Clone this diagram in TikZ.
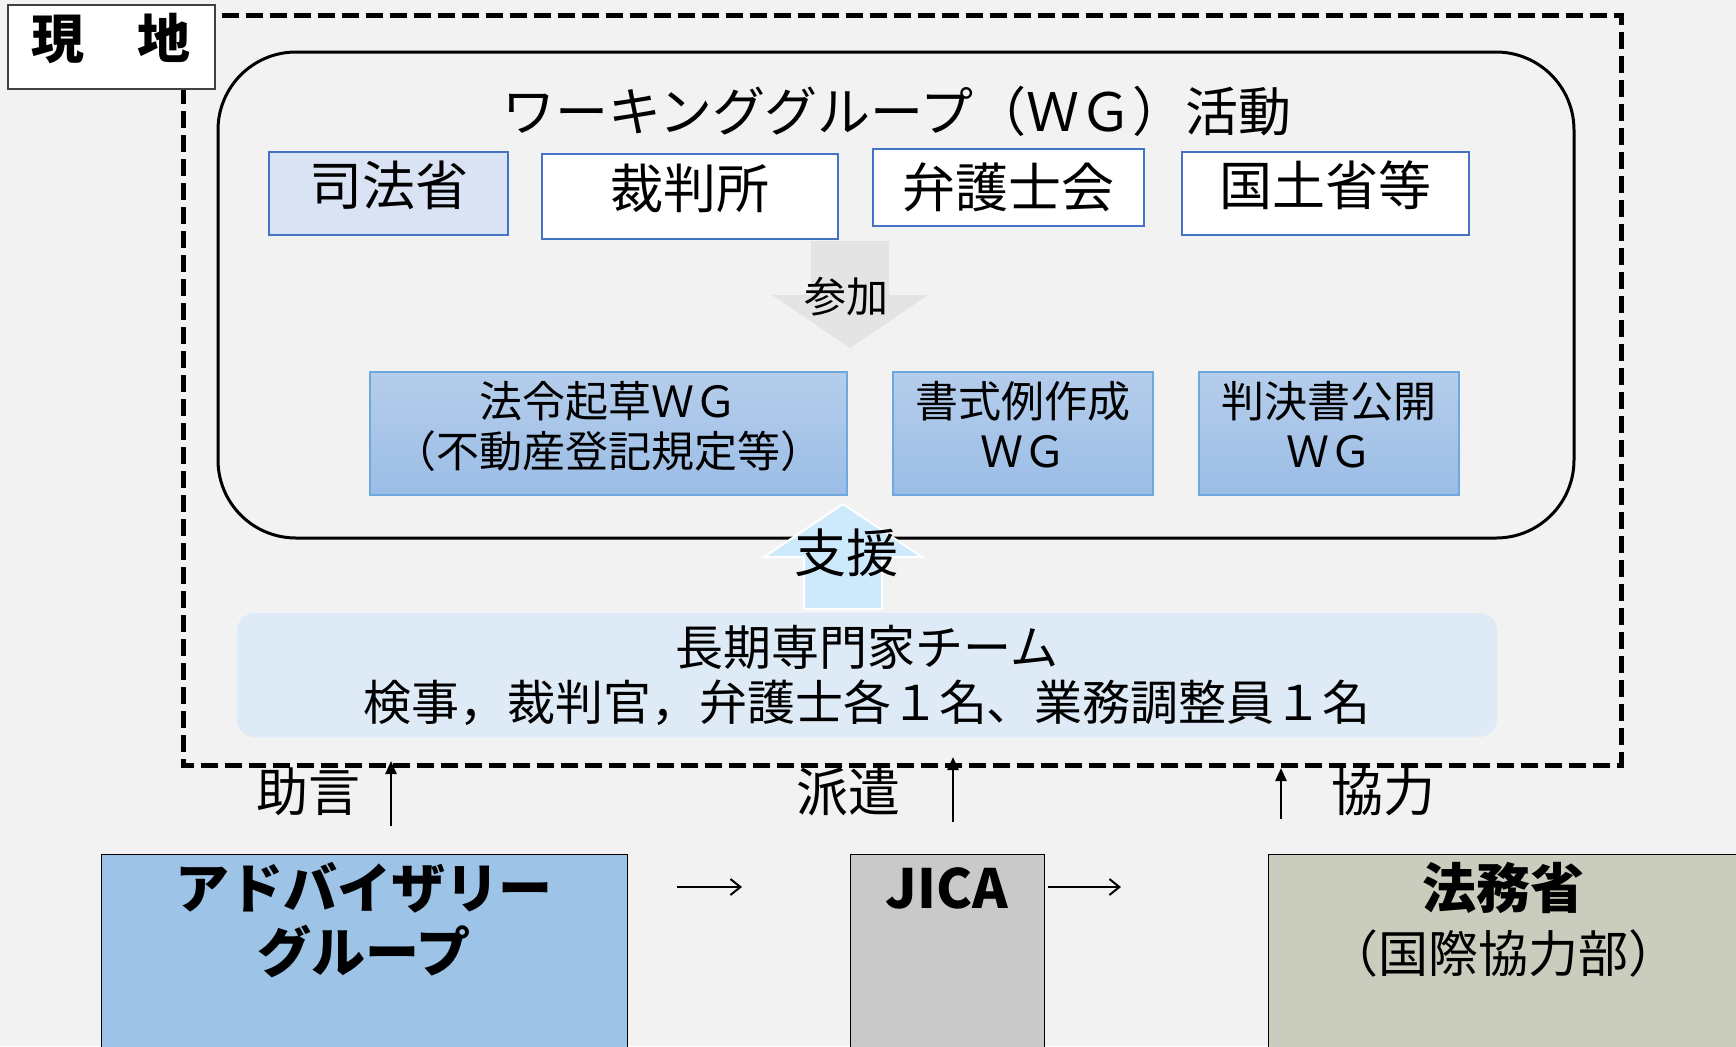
\documentclass[tikz,border=0pt]{standalone}
\usepackage{fontspec}
\setmainfont{Noto Sans CJK JP}
\usetikzlibrary{arrows.meta}
\definecolor{bg}{HTML}{F2F2F2}
\definecolor{shihoufill}{HTML}{DAE3F3}
\definecolor{topborder}{HTML}{4472C4}
\definecolor{wgtop}{HTML}{B5CDEB}
\definecolor{wgbot}{HTML}{9BBDE6}
\definecolor{wgborder}{HTML}{6FA8DC}
\definecolor{teamfill}{HTML}{DEEAF6}
\definecolor{shienfill}{HTML}{CDE9FC}
\definecolor{sankafill}{HTML}{E4E4E4}
\definecolor{advfill}{HTML}{9DC3E6}
\definecolor{jicafill}{HTML}{C9C9C9}
\definecolor{mojfill}{HTML}{CACCBD}
\tikzset{
  topbox/.style={draw=topborder, line width=1pt, fill=white, inner sep=0pt,
    font=\fontsize{26.5}{30}\selectfont},
  raised/.style={text height=22pt, text depth=10pt},
  wgbox/.style={draw=wgborder, line width=0.6pt, top color=wgtop, bottom color=wgbot,
    inner sep=0pt, align=center, text depth=9pt, font=\fontsize{21.5}{25}\selectfont},
  botbox/.style={draw=black, line width=0.7pt, inner sep=0pt, anchor=north west},
  lbl/.style={font=\fontsize{26}{30}\selectfont, inner sep=0pt},
  uparr/.style={line width=1.2pt, -{Triangle[length=6.5pt,width=5.5pt]}},
  sidearr/.style={line width=1pt, -{Straight Barb[length=5pt,width=8pt]}},
}
\begin{document}
\begin{tikzpicture}[x=0.5pt,y=-0.5pt]
\useasboundingbox (0,0) rectangle (1736,1046);
\fill[bg] (0,0) rectangle (1736,1046);

% dashed frame
\draw[line width=2.5pt, dash pattern=on 8.5pt off 3.5pt] (183,15) rectangle (1621,765);

% rounded WG frame
\node[draw=black, line width=1.5pt, rounded corners=39pt, minimum width=678pt, minimum height=243pt, inner sep=0pt] (wgframe) at (896,295) {};
\node[font=\fontsize{26.5}{30}\selectfont, inner sep=0pt] (title) at (897,111) {ワーキンググループ（ＷＧ）活動};

% 参加 arrow
\fill[sankafill] (811,241) -- (889,241) -- (889,295) -- (928,295) -- (850,348) -- (772,295) -- (811,295) -- cycle;
\node[font=\fontsize{21}{25}\selectfont, inner sep=0pt] (sanka) at (846,297) {参加};

% top boxes
\node[topbox, raised, fill=shihoufill, minimum width=119.5pt, minimum height=41.5pt] (shihou) at (388.5,193.5) {司法省};
\node[topbox, raised, minimum width=148pt, minimum height=42.5pt] (saiban) at (690,196.5) {裁判所};
\node[topbox, minimum width=135.5pt, minimum height=38.5pt] (bengo) at (1008.5,187.5) {弁護士会};
\node[topbox, raised, minimum width=143.5pt, minimum height=41.5pt] (kokudo) at (1325.5,193.5) {国土省等};

% WG boxes
\node[wgbox, minimum width=238.5pt, minimum height=61.5pt] (wg1) at (608.5,433.5) {法令起草ＷＧ\\（不動産登記規定等）};
\node[wgbox, minimum width=130pt, minimum height=61.5pt] (wg2) at (1023,433.5) {書式例作成\\ＷＧ};
\node[wgbox, minimum width=130pt, minimum height=61.5pt] (wg3) at (1329,433.5) {判決書公開\\ＷＧ};

% 支援 arrow
\filldraw[fill=shienfill, draw=white, line width=1pt] (804,609) -- (804,557) -- (764,557) -- (843,504) -- (922,557) -- (882,557) -- (882,609) -- cycle;
\node[font=\fontsize{26}{30}\selectfont, inner sep=0pt] (shien) at (846,553) {支援};

% team box
\node[fill=teamfill, rounded corners=9pt, minimum width=630pt, minimum height=62pt, inner sep=0pt, align=center, font=\fontsize{24}{27.5}\selectfont] (team) at (867,675) {長期専門家チーム\\検事，裁判官，弁護士各１名、業務調整員１名};

% 現地 label
\node[draw=black!75, line width=0.8pt, fill=white, minimum width=103.5pt, minimum height=42pt, inner sep=0pt, text height=22pt, text depth=11pt, font=\fontsize{26.5}{30}\selectfont\bfseries] (genchi) at (111.5,47) {現　地};

% bottom boxes
\node[botbox, fill=advfill, minimum width=263pt, minimum height=110pt] (adv) at (101,854) {};
\node[botbox, fill=jicafill, minimum width=97pt, minimum height=110pt] (jica) at (850,854) {};
\node[botbox, fill=mojfill, minimum width=245pt, minimum height=110pt] (moj) at (1268,854) {};
\node[align=center, inner sep=0pt, font=\fontsize{27}{32}\selectfont\bfseries] (advtxt) at (364,920) {アドバイザリー\\グループ};
\node[inner sep=0pt, font=\fontsize{27}{32}\selectfont\bfseries] (jicatxt) at (947,888) {JICA};
\node[inner sep=0pt, font=\fontsize{27}{32}\selectfont\bfseries] (mojtxt) at (1503,888) {法務省};
\node[inner sep=0pt, font=\fontsize{25}{30}\selectfont] (mojsub) at (1503,953) {（国際協力部）};

% side arrows
\coordinate (h1a) at (677,887);
\coordinate (h1b) at (742,887);
\coordinate (h2a) at (1048,887);
\coordinate (h2b) at (1121,887);
\draw[sidearr] (h1a) -- (h1b);
\draw[sidearr] (h2a) -- (h2b);

% vertical arrows with labels
\coordinate (v1a) at (391,826);
\coordinate (v1b) at (391,761);
\coordinate (v2a) at (953,822);
\coordinate (v2b) at (953,757);
\coordinate (v3a) at (1281,819);
\coordinate (v3b) at (1281,768);
\draw[uparr] (v1a) -- (v1b);
\draw[uparr] (v2a) -- (v2b);
\draw[uparr] (v3a) -- (v3b);
\node[lbl] (jogen) at (308,792) {助言};
\node[lbl] (haken) at (848,792) {派遣};
\node[lbl] (kyoryoku) at (1383,792) {協力};
\end{tikzpicture}
\end{document}
